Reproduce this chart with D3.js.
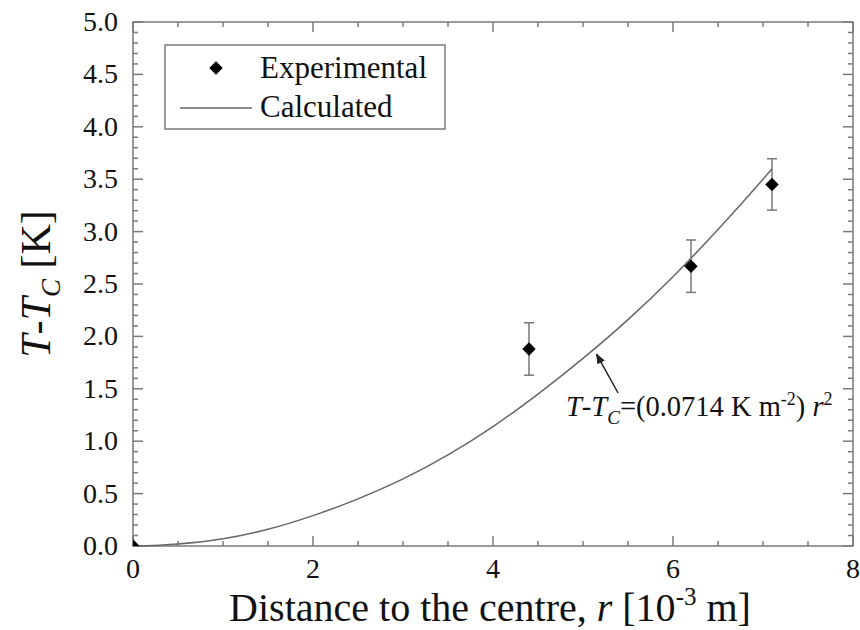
<!DOCTYPE html>
<html>
<head>
<meta charset="utf-8">
<script src="https://cdn.jsdelivr.net/npm/d3@7"></script>
<style>
  body { margin: 0; background: #fff; }
  svg text { font-family: "Liberation Serif", "Times New Roman", serif; fill: #111; }
</style>
</head>
<body>
<div id="chart"></div>
<script>
// experimental points
var expR = [0, 4.4, 6.2, 7.1],
  expT = [0, 1.88, 2.67, 3.45],
  expErr = [0, 0.25, 0.25, 0.245];

// calculated curve
var calcR = [0, 0.5, 1, 1.5, 2, 2.5, 3, 3.5, 4, 4.5, 5, 5.5, 6, 6.5, 7, 7.1],
  calcT = [0, 0.02, 0.07, 0.16, 0.29, 0.45, 0.64, 0.87, 1.14, 1.45, 1.79, 2.16, 2.57, 3.02, 3.50, 3.60];

var xTicks = [0, 2, 4, 6, 8],
  yTicks = [0, 0.5, 1, 1.5, 2, 2.5, 3, 3.5, 4, 4.5, 5];

var w = 860, h = 630,
  pLeft = 133, pRight = 853, pTop = 22, pBottom = 546;

var svg = d3.select("#chart").append("svg")
  .attr("width", w)
  .attr("height", h);

var x = d3.scaleLinear().domain([0, 8]).range([pLeft, pRight]);
var y = d3.scaleLinear().domain([0, 5]).range([pBottom, pTop]);

var axisColor = "#7a7a7a";
var defs = svg.append("defs");

defs.append("clipPath").attr("id", "plotclip")
  .append("rect")
  .attr("x", pLeft).attr("y", pTop)
  .attr("width", pRight - pLeft).attr("height", pBottom - pTop);

// ticks on all four sides, pointing inward
var xMinor = d3.range(0, 8.01, 0.5),
  yMinor = d3.range(0, 5.001, 0.1);

function tickLen(v, step) {
  return Math.abs(v / step - Math.round(v / step)) < 1e-6 ? 10 : 5;
}

var g = svg.append("g").attr("stroke", axisColor).attr("stroke-width", 1.5);

xMinor.forEach(function (v) {
  var l = tickLen(v, 2);
  g.append("line").attr("x1", x(v)).attr("x2", x(v)).attr("y1", pBottom).attr("y2", pBottom - l);
  g.append("line").attr("x1", x(v)).attr("x2", x(v)).attr("y1", pTop).attr("y2", pTop + l);
});
yMinor.forEach(function (v) {
  var l = tickLen(v, 0.5);
  g.append("line").attr("y1", y(v)).attr("y2", y(v)).attr("x1", pLeft).attr("x2", pLeft + l);
  g.append("line").attr("y1", y(v)).attr("y2", y(v)).attr("x1", pRight).attr("x2", pRight - l);
});

svg.append("rect")
  .attr("x", pLeft).attr("y", pTop)
  .attr("width", pRight - pLeft).attr("height", pBottom - pTop)
  .attr("fill", "none")
  .attr("stroke", axisColor)
  .attr("stroke-width", 1.5);

// tick labels
svg.selectAll(".xlab")
  .data(xTicks)
  .enter().append("text")
  .attr("x", function (d) { return x(d); })
  .attr("y", 578)
  .attr("text-anchor", "middle")
  .style("font-size", "28px")
  .text(function (d) { return d; });

svg.selectAll(".ylab")
  .data(yTicks)
  .enter().append("text")
  .attr("x", 118)
  .attr("y", function (d) { return y(d) + 9; })
  .attr("text-anchor", "end")
  .style("font-size", "28px")
  .text(function (d) { return d.toFixed(1); });

// axis titles
var xt = svg.append("text")
  .attr("x", (pLeft + pRight) / 2 - 3)
  .attr("y", 621)
  .attr("text-anchor", "middle")
  .style("font-size", "40px");
xt.append("tspan").text("Distance to the centre, ");
xt.append("tspan").style("font-style", "italic").text("r");
xt.append("tspan").text(" [10");
xt.append("tspan").attr("dy", -16).style("font-size", "25px").text("-3");
xt.append("tspan").attr("dy", 16).text(" m]");

var yt = svg.append("text")
  .attr("transform", "translate(50," + ((pTop + pBottom) / 2) + ") rotate(-90)")
  .attr("text-anchor", "middle")
  .style("font-size", "42px");
yt.append("tspan").style("font-style", "italic").text("T");
yt.append("tspan").text("-");
yt.append("tspan").style("font-style", "italic").text("T");
yt.append("tspan").attr("dy", 10).style("font-size", "27px").style("font-style", "italic").text("C");
yt.append("tspan").attr("dy", -10).text(" [K]");

// calculated curve
var line = d3.line()
  .x(function (d) { return x(d[0]); })
  .y(function (d) { return y(d[1]); })
  .curve(d3.curveMonotoneX);

svg.append("path")
  .datum(d3.zip(calcR, calcT))
  .attr("d", line)
  .attr("fill", "none")
  .attr("stroke", "#666")
  .attr("stroke-width", 1.5);

// error bars and points
var pts = expR.map(function (r, i) { return {r: r, t: expT[i], e: expErr[i]}; });
var pg = svg.append("g").attr("clip-path", "url(#plotclip)");

pts.filter(function (d) { return d.e > 0; }).forEach(function (d) {
  var eb = pg.append("g").attr("stroke", "#777").attr("stroke-width", 1.5);
  eb.append("line").attr("x1", x(d.r)).attr("x2", x(d.r)).attr("y1", y(d.t - d.e)).attr("y2", y(d.t + d.e));
  eb.append("line").attr("x1", x(d.r) - 5).attr("x2", x(d.r) + 5).attr("y1", y(d.t - d.e)).attr("y2", y(d.t - d.e));
  eb.append("line").attr("x1", x(d.r) - 5).attr("x2", x(d.r) + 5).attr("y1", y(d.t + d.e)).attr("y2", y(d.t + d.e));
});

var diamond = d3.symbol().type(d3.symbolDiamond2).size(115);
pg.selectAll(".pt")
  .data(pts)
  .enter().append("path")
  .attr("transform", function (d) { return "translate(" + x(d.r) + "," + y(d.t) + ")"; })
  .attr("d", diamond)
  .attr("fill", "#000");

// annotation arrow
defs.append("marker")
  .attr("id", "arrowhead")
  .attr("viewBox", "0 0 10 10")
  .attr("refX", 9).attr("refY", 5)
  .attr("markerWidth", 7).attr("markerHeight", 7)
  .attr("orient", "auto")
  .append("path").attr("d", "M0,1 L10,5 L0,9 Z").attr("fill", "#222");

svg.append("line")
  .attr("x1", x(5.39)).attr("y1", y(1.46))
  .attr("x2", x(5.15)).attr("y2", y(1.83))
  .attr("stroke", "#222")
  .attr("stroke-width", 1.5)
  .attr("marker-end", "url(#arrowhead)");

var an = svg.append("text")
  .attr("x", 566)
  .attr("y", 416)
  .style("font-size", "28.5px");
an.append("tspan").style("font-style", "italic").text("T");
an.append("tspan").text("-");
an.append("tspan").style("font-style", "italic").text("T");
an.append("tspan").attr("dy", 8).style("font-size", "19px").style("font-style", "italic").text("C");
an.append("tspan").attr("dy", -8).text("=(0.0714 K m");
an.append("tspan").attr("dy", -11).style("font-size", "18px").text("-2");
an.append("tspan").attr("dy", 11).text(") ");
an.append("tspan").style("font-style", "italic").text("r");
an.append("tspan").attr("dy", -11).style("font-size", "18px").text("2");

// legend
var lg = svg.append("g");
lg.append("rect")
  .attr("x", 165).attr("y", 45)
  .attr("width", 280).attr("height", 84)
  .attr("fill", "#fff")
  .attr("stroke", axisColor)
  .attr("stroke-width", 1.5);
lg.append("path")
  .attr("transform", "translate(216,68)")
  .attr("d", diamond)
  .attr("fill", "#000");
lg.append("line")
  .attr("x1", 180).attr("x2", 252).attr("y1", 108).attr("y2", 108)
  .attr("stroke", "#666").attr("stroke-width", 1.5);
lg.append("text").attr("x", 260).attr("y", 78).style("font-size", "31px").text("Experimental");
lg.append("text").attr("x", 260).attr("y", 117).style("font-size", "31px").text("Calculated");
</script>
</body>
</html>
